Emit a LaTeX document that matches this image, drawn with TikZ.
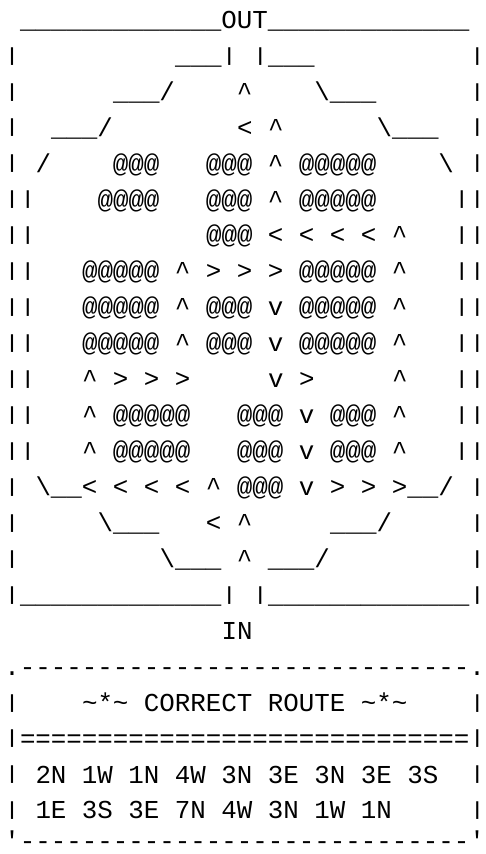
\documentclass[tikz,border=0pt]{standalone}
\usepackage{fontspec}
\setmonofont{Liberation Mono}
\ExplSyntaxOn
\cs_new:Npn \rp #1#2 { \prg_replicate:nn {#1} {#2} }
\ExplSyntaxOff
\newcommand\mybs{\textbackslash}
\newcommand\myca{\textasciicircum}
\newcommand\myti{\textasciitilde}
\newsavebox\mybarbox
\newcommand\myvb{\sbox\mybarbox{|}\raisebox{-0.8pt}{\resizebox{\wd\mybarbox}{17.7pt}{\raisebox{\dp\mybarbox}{|}}}}
\tikzset{
  row/.style={anchor=base west, inner sep=0pt, outer sep=0pt,
    font=\ttfamily\fontsize{25.83pt}{36pt}\selectfont, text=black}
}
\begin{document}
\begin{tikzpicture}[x=1pt,y=-1pt]
\path[fill=white,use as bounding box] (0,0) rectangle (485,854);
\node[row] (r0)  at (4.5,28.30)  {\ \rp{13}{\_}OUT\rp{13}{\_}};
\node[row] (r1)  at (4.5,64.24)  {\myvb\rp{10}{\ }\_\_\_\myvb\ \myvb\_\_\_\rp{10}{\ }\myvb};
\node[row] (r2)  at (4.5,100.18) {\myvb\rp{6}{\ }\_\_\_/\rp{4}{\ }\myca\rp{4}{\ }\mybs\_\_\_\rp{6}{\ }\myvb};
\node[row] (r3)  at (4.5,136.12) {\myvb\ \ \_\_\_/\rp{8}{\ }<\ \myca\rp{6}{\ }\mybs\_\_\_\ \ \myvb};
\node[row] (r4)  at (4.5,172.06) {\myvb\ /\rp{4}{\ }@@@\ \ \ @@@\ \myca\ @@@@@\rp{4}{\ }\mybs\ \myvb};
\node[row] (r5)  at (4.5,208.00) {\myvb\myvb\rp{4}{\ }@@@@\ \ \ @@@\ \myca\ @@@@@\rp{5}{\ }\myvb\myvb};
\node[row] (r6)  at (4.5,243.94) {\myvb\myvb\rp{11}{\ }@@@\ <\ <\ <\ <\ \myca\ \ \ \myvb\myvb};
\node[row] (r7)  at (4.5,279.88) {\myvb\myvb\ \ \ @@@@@\ \myca\ >\ >\ >\ @@@@@\ \myca\ \ \ \myvb\myvb};
\node[row] (r8)  at (4.5,315.82) {\myvb\myvb\ \ \ @@@@@\ \myca\ @@@\ v\ @@@@@\ \myca\ \ \ \myvb\myvb};
\node[row] (r9)  at (4.5,351.76) {\myvb\myvb\ \ \ @@@@@\ \myca\ @@@\ v\ @@@@@\ \myca\ \ \ \myvb\myvb};
\node[row] (r10) at (4.5,387.70) {\myvb\myvb\ \ \ \myca\ >\ >\ >\rp{5}{\ }v\ >\rp{5}{\ }\myca\ \ \ \myvb\myvb};
\node[row] (r11) at (4.5,423.64) {\myvb\myvb\ \ \ \myca\ @@@@@\ \ \ @@@\ v\ @@@\ \myca\ \ \ \myvb\myvb};
\node[row] (r12) at (4.5,459.58) {\myvb\myvb\ \ \ \myca\ @@@@@\ \ \ @@@\ v\ @@@\ \myca\ \ \ \myvb\myvb};
\node[row] (r13) at (4.5,495.52) {\myvb\ \mybs\_\_<\ <\ <\ <\ \myca\ @@@\ v\ >\ >\ >\_\_/\ \myvb};
\node[row] (r14) at (4.5,531.46) {\myvb\rp{5}{\ }\mybs\_\_\_\ \ \ <\ \myca\rp{5}{\ }\_\_\_/\rp{5}{\ }\myvb};
\node[row] (r15) at (4.5,567.40) {\myvb\rp{9}{\ }\mybs\_\_\_\ \myca\ \_\_\_/\rp{9}{\ }\myvb};
\node[row] (r16) at (4.5,603.34) {\myvb\rp{13}{\_}\myvb\ \myvb\rp{13}{\_}\myvb};
\node[row] (r17) at (4.5,639.28) {\rp{14}{\ }IN};
\node[row] (r18) at (4.5,675.22) {.\rp{29}{-}.};
\node[row] (r19) at (4.5,711.16) {\myvb\rp{4}{\ }\myti*\myti\ CORRECT\ ROUTE\ \myti*\myti\rp{4}{\ }\myvb};
\node[row] (r20) at (4.5,747.10) {\myvb\rp{29}{=}\myvb};
\node[row] (r21) at (4.5,783.04) {\myvb\ 2N\ 1W\ 1N\ 4W\ 3N\ 3E\ 3N\ 3E\ 3S\ \ \myvb};
\node[row] (r22) at (4.5,818.98) {\myvb\ 1E\ 3S\ 3E\ 7N\ 4W\ 3N\ 1W\ 1N\rp{5}{\ }\myvb};
\node[row] (r23) at (4.5,849.50) {'\rp{29}{-}'};
\end{tikzpicture}
\end{document}
